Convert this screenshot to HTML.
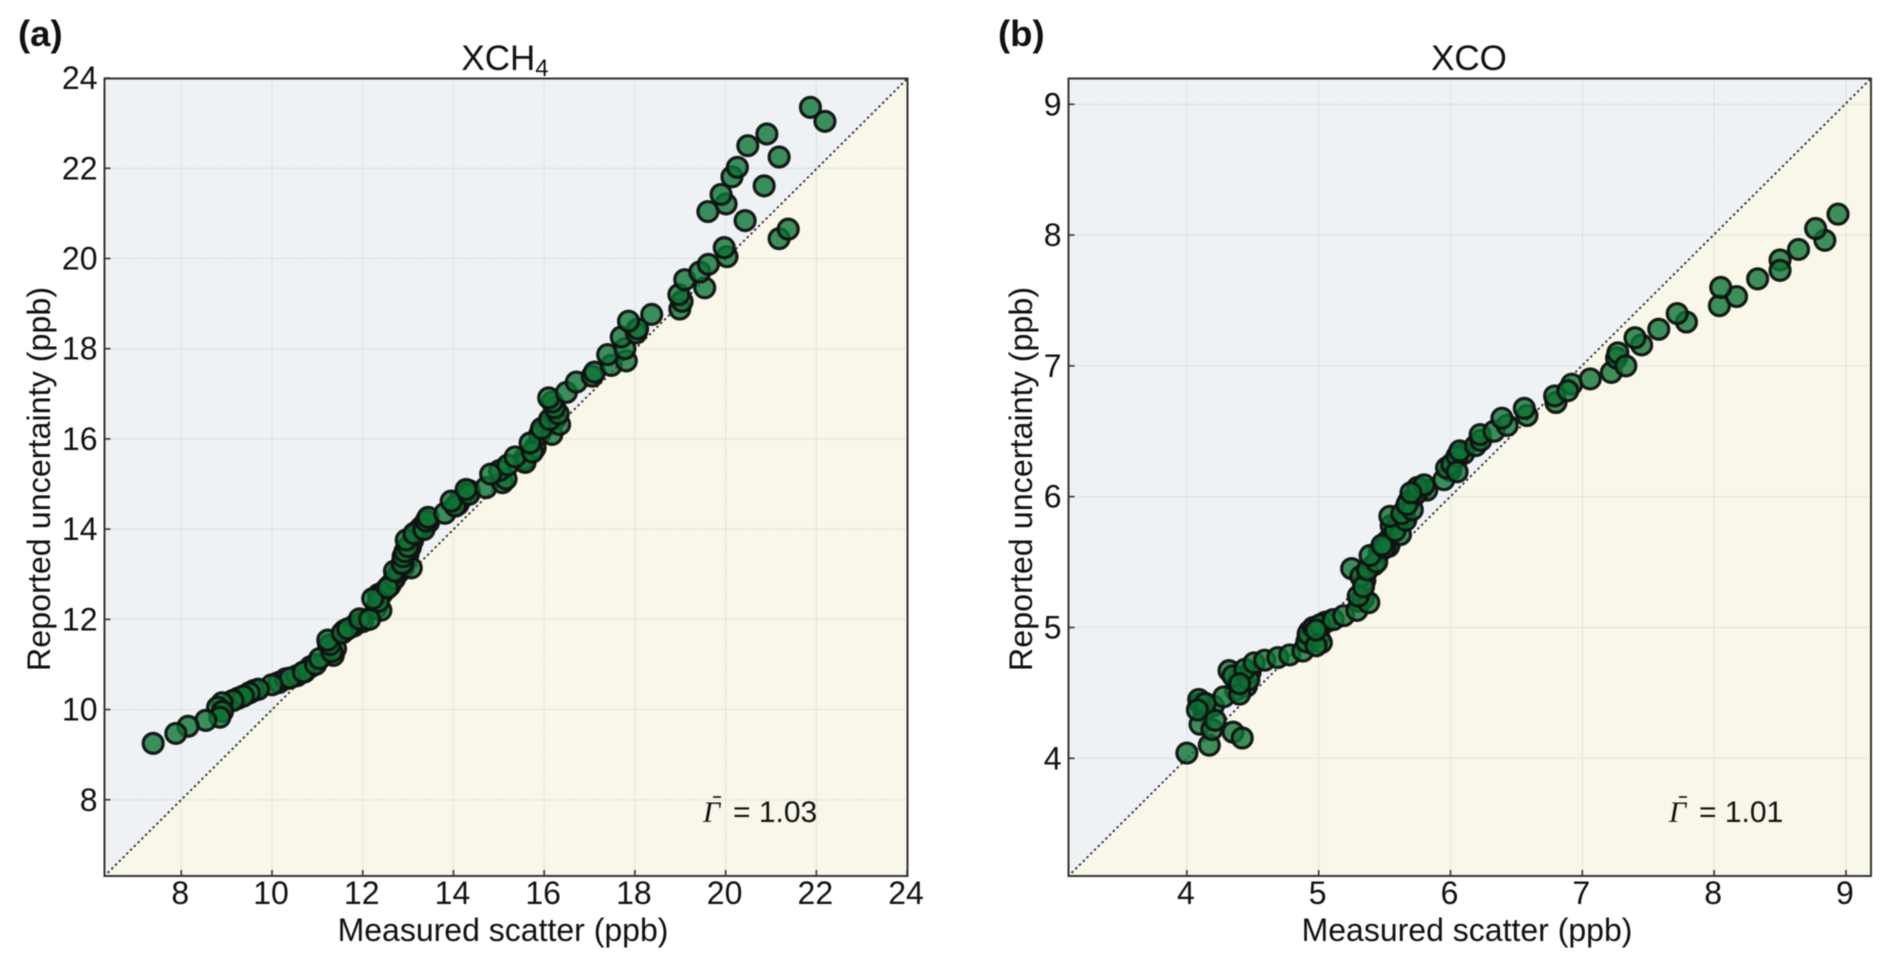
<!DOCTYPE html>
<html lang="en">
<head>
<meta charset="utf-8">
<title>Reported uncertainty versus measured scatter</title>
<style>
html,body{margin:0;padding:0;background:#fff;width:1892px;height:967px;overflow:hidden}
svg{display:block;filter:blur(0.4px)}
text{font-family:"Liberation Sans",sans-serif;fill:#111}
</style>
</head>
<body>
<svg id="figure" width="1892" height="967" viewBox="0 0 1892 967" xmlns="http://www.w3.org/2000/svg"></svg>
<script>
const xch4TickLabels = [8, 10, 12, 14, 16, 18, 20, 22, 24];
const xcoTickLabels = [4, 5, 6, 7, 8, 9];
const xch4Scatter = [11.25,11.35,11.4,11.6,11.8,12.0,12.3,12.35,12.45,12.6,12.7,12.8,12.9,12.95,13.0,13.05,13.1,13.2,13.3,13.45,14.1,14.15,14.35,16.05,16.25,15.55,15.8,15.9,10.15,10.3,10.55,10.85,9.6,9.25,10.72,10.4,10.0,9.7,9.5,9.37,9.14,8.9,8.8,8.91,8.85,8.54,8.15,7.88,7.38,10.69,10.96,11.05,11.32,11.28,11.23,11.55,11.67,11.93,12.4,12.15,12.35,12.22,12.55,12.7,13.07,12.88,12.87,12.89,12.93,13.0,12.96,13.13,13.35,13.4,13.44,13.81,14.04,13.95,14.34,14.28,14.72,15.08,15.16,15.02,14.82,15.58,15.2,15.36,15.74,15.69,16.17,15.94,16.34,16.12,16.31,16.23,16.18,16.1,16.49,16.71,17.06,17.11,17.48,17.81,17.4,17.78,17.7,18.03,18.06,17.86,18.37,18.99,19.04,18.97,19.54,19.1,19.43,19.62,20.03,19.97,21.18,21.38,20.43,19.61,20.01,19.9,20.85,20.14,20.26,21.18,20.49,20.91,22.19,21.87];
const xch4Uncertainty = [11.4,11.2,11.35,11.75,11.85,11.95,12.25,12.55,12.6,12.75,12.9,13.05,13.15,13.3,13.45,13.6,13.75,13.95,14.05,14.15,14.55,14.65,14.85,16.3,16.45,15.55,15.8,16.1,10.6,10.68,10.75,10.95,10.42,10.25,10.84,10.7,10.55,10.45,10.37,10.3,10.2,10.15,10.05,9.96,9.83,9.76,9.63,9.47,9.25,10.83,11.0,11.13,11.28,11.44,11.54,11.7,11.79,12.01,12.2,12.0,12.4,12.46,12.7,13.07,13.14,13.23,13.24,13.39,13.5,13.61,13.76,13.9,13.99,14.18,14.26,14.35,14.51,14.62,14.77,14.88,14.92,15.03,15.11,15.3,15.22,15.48,15.42,15.6,15.71,15.91,16.1,16.23,16.32,16.43,16.56,16.69,16.82,16.91,17.03,17.26,17.39,17.48,17.63,17.73,17.87,18.0,18.26,18.35,18.44,18.61,18.76,18.88,19.05,19.2,19.35,19.53,19.7,19.87,20.04,20.24,20.44,20.65,20.84,21.04,21.21,21.42,21.61,21.81,22.02,22.25,22.5,22.76,23.04,23.35];
const xcoScatter = [4.95,4.93,5.0,5.05,5.31,5.34,5.35,5.42,5.46,5.52,5.53,5.55,5.6,5.65,5.68,5.72,5.78,4.37,4.45,4.4,4.48,4.2,4.13,4.1,6.1,6.0,4.0,4.17,4.35,4.42,4.1,4.19,4.215,4.09,4.14,4.08,4.28,4.4,4.32,4.35,4.47,4.44,4.4,4.51,4.59,4.69,4.78,4.88,4.91,5.02,4.92,4.96,4.98,5.01,4.98,5.11,5.19,5.29,5.38,5.3,5.25,5.32,5.34,5.37,5.44,5.39,5.5,5.48,5.62,5.58,5.54,5.66,5.63,5.71,5.67,5.82,5.745,5.95,5.97,6.01,5.75,5.8,6.05,5.7,6.07,6.05,6.19,6.23,6.225,6.33,6.43,6.39,6.58,6.56,6.8,6.79,6.92,6.89,7.06,7.22,7.26,7.27,7.33,7.45,7.4,7.58,7.79,7.72,8.04,8.17,8.05,8.33,8.5,8.5,8.64,8.84,8.77,8.94];
const xcoUncertainty = [4.92,4.97,4.93,5.04,5.2,5.22,5.36,5.48,5.58,5.66,5.62,5.78,5.8,5.85,5.96,6.0,6.06,4.52,4.55,4.62,4.66,4.4,4.36,4.42,6.33,6.2,4.04,4.1,4.2,4.155,4.26,4.22,4.29,4.45,4.42,4.37,4.47,4.49,4.67,4.63,4.6,4.68,4.57,4.73,4.75,4.77,4.79,4.82,4.89,4.885,4.95,5.0,4.86,5.02,4.98,5.06,5.09,5.13,5.19,5.24,5.45,5.39,5.31,5.44,5.5,5.55,5.61,5.63,5.71,5.74,5.85,5.82,5.87,5.9,5.94,6.05,6.03,6.13,6.22,6.25,6.07,6.09,6.31,6.03,6.35,6.19,6.39,6.43,6.475,6.5,6.545,6.6,6.62,6.675,6.72,6.77,6.86,6.81,6.9,6.95,7.06,7.1,7.0,7.16,7.215,7.28,7.335,7.4,7.46,7.53,7.6,7.665,7.81,7.73,7.89,7.96,8.05,8.16];

const SVG_NS = 'http://www.w3.org/2000/svg';
const figure = document.getElementById('figure');

function make(parent, tag, attrs, text) {
  const el = document.createElementNS(SVG_NS, tag);
  for (const k in attrs) el.setAttribute(k, attrs[k]);
  if (text !== undefined) el.textContent = text;
  parent.appendChild(el);
  return el;
}

function drawPanel(cfg) {
  const g = make(figure, 'g', {});
  
  

  const sx = v => cfg.left + (v - cfg.xMin) * (cfg.right - cfg.left) / (cfg.xMax - cfg.xMin);
  const sy = v => cfg.bottom - (v - cfg.yMin) * (cfg.bottom - cfg.top) / (cfg.yMax - cfg.yMin);

  const upper = make(g, 'rect', {x: cfg.left, y: cfg.top, width: cfg.right - cfg.left, height: cfg.bottom - cfg.top, fill: '#eef2f5'});
  
  
  const lower = make(g, 'polygon', {points: cfg.left + ',' + cfg.bottom + ' ' + cfg.right + ',' + cfg.top + ' ' + cfg.right + ',' + cfg.bottom, fill: '#f8f7e9'});
  
  

  cfg.ticks.forEach(t => {
    const vx = make(g, 'line', {x1: sx(t), x2: sx(t), y1: cfg.top, y2: cfg.bottom, stroke: '#bcc0c2', 'stroke-opacity': 0.65, 'stroke-width': 1.1, 'stroke-dasharray': '1.2 1.2'});
    
    
    const hy = make(g, 'line', {x1: cfg.left, x2: cfg.right, y1: sy(t), y2: sy(t), stroke: '#bcc0c2', 'stroke-opacity': 0.65, 'stroke-width': 1.1, 'stroke-dasharray': '1.2 1.2'});
    
    
  });

  const diag = make(g, 'line', {x1: cfg.left, y1: cfg.bottom, x2: cfg.right, y2: cfg.top, stroke: '#333', 'stroke-width': 2, 'stroke-linecap': 'round', 'stroke-dasharray': '0.6 4.7'});
  
  

  cfg.xs.forEach((xv, i) => {
    const pt = make(g, 'circle', {cx: sx(xv), cy: sy(cfg.ys[i]), r: 10, fill: '#0c7435', 'fill-opacity': 0.8, stroke: '#111', 'stroke-opacity': 0.95, 'stroke-width': 3.2});
    
    
  });

  const frame = make(g, 'rect', {x: cfg.left, y: cfg.top, width: cfg.right - cfg.left, height: cfg.bottom - cfg.top, fill: 'none', stroke: '#333', 'stroke-width': 2});
  
  

  cfg.ticks.forEach(t => {
    const xt = make(g, 'line', {x1: sx(t), x2: sx(t), y1: cfg.bottom, y2: cfg.bottom - 6, stroke: '#333', 'stroke-width': 1.6});
    
    
    const yt = make(g, 'line', {x1: cfg.left, x2: cfg.left + 6, y1: sy(t), y2: sy(t), stroke: '#333', 'stroke-width': 1.6});
    
    
    const xl = make(g, 'text', {x: sx(t) - 1, y: cfg.bottom + 28, 'text-anchor': 'middle', 'font-size': 32}, String(t));
    
    
    const yl = make(g, 'text', {x: cfg.left - 7, y: sy(t) + 11, 'text-anchor': 'end', 'font-size': 32}, String(t));
    
    
  });

  const xTitle = make(g, 'text', {x: cfg.xTitleX, y: 941, 'text-anchor': 'middle', 'font-size': 32}, 'Measured scatter (ppb)');
  
  

  const yTitle = make(g, 'text', {x: 0, y: 0, 'text-anchor': 'middle', 'font-size': 32.3, transform: 'translate(' + cfg.yTitleX + ',479) rotate(-90)'}, 'Reported uncertainty (ppb)');
  
  

  const title = make(g, 'text', {x: cfg.titleX, y: 70, 'text-anchor': 'middle', 'font-size': 35}, cfg.title);
  
  
  if (cfg.titleSub) {
    const sub = make(title, 'tspan', {dy: 6, 'font-size': 24}, cfg.titleSub);
    
    
  }

  const letter = make(g, 'text', {x: cfg.letterX, y: 46, 'font-size': 36.5, 'font-weight': 'bold'}, cfg.letter);
  
  

  const stat = make(g, 'text', {x: cfg.statX, y: 822, 'font-size': 30}, '= ' + cfg.stat);
  
  
  const gamma = make(g, 'text', {x: cfg.statX - 30, y: 822, 'font-size': 30, 'font-style': 'italic', style: 'font-family:"Liberation Serif",serif'}, 'Γ');
  
  
  const macron = make(g, 'line', {x1: cfg.statX - 20, x2: cfg.statX - 12, y1: 797, y2: 797, stroke: '#111', 'stroke-width': 1.6});
  
  
}

drawPanel({
  id: 'xch4', title: 'XCH', titleSub: '4', letter: '(a)', stat: '1.03',
  left: 104.5, right: 907.5, top: 78.5, bottom: 876,
  xMin: 6.307, xMax: 24.01, yMin: 6.31, yMax: 23.99,
  ticks: xch4TickLabels, xs: xch4Scatter, ys: xch4Uncertainty,
  xTitleX: 503, yTitleX: 50, titleX: 505, letterX: 18, statX: 733
});
drawPanel({
  id: 'xco', title: 'XCO', titleSub: '', letter: '(b)', stat: '1.01',
  left: 1068.5, right: 1871, top: 78.5, bottom: 876,
  xMin: 3.102, xMax: 9.19, yMin: 3.10, yMax: 9.197,
  ticks: xcoTickLabels, xs: xcoScatter, ys: xcoUncertainty,
  xTitleX: 1467, yTitleX: 1032, titleX: 1469, letterX: 998, statX: 1699
});
</script>
</body>
</html>
